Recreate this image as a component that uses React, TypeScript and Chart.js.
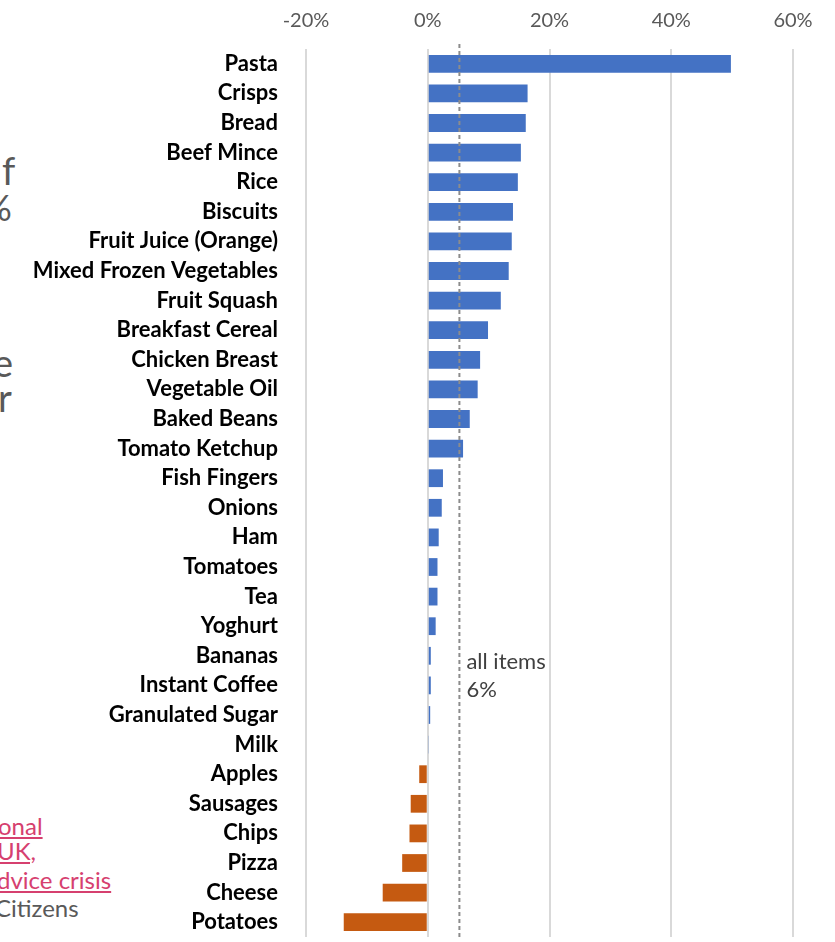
import React, { useEffect, useRef } from "react";
import { Chart, registerables } from "chart.js";

Chart.register(...registerables);

const categories = [
  "Pasta", "Crisps", "Bread", "Beef Mince", "Rice", "Biscuits", "Fruit Juice (Orange)",
  "Mixed Frozen Vegetables", "Fruit Squash", "Breakfast Cereal", "Chicken Breast",
  "Vegetable Oil", "Baked Beans", "Tomato Ketchup", "Fish Fingers", "Onions", "Ham",
  "Tomatoes", "Tea", "Yoghurt", "Bananas", "Instant Coffee", "Granulated Sugar", "Milk",
  "Apples", "Sausages", "Chips", "Pizza", "Cheese", "Potatoes",
];

const changes = [
  49.8, 16.4, 16.1, 15.3, 14.8, 14.0, 13.8,
  13.3, 12.0, 9.9, 8.6,
  8.2, 6.9, 5.8, 2.5, 2.3, 1.8,
  1.6, 1.6, 1.3, 0.5, 0.5, 0.4, 0.2,
  -1.4, -2.8, -3.0, -4.2, -7.4, -13.8,
];

const xTicks = [-20, 0, 20, 40, 60];
const allItemsValue = 5.2;
const allItemsLabel = ["all items", "6%"];

const leftFragments = [
  { text: "f", left: 2, top: 148, size: 38, color: "#595959", underline: false },
  { text: "%", left: -17, top: 186, size: 36, color: "#595959", underline: false },
  { text: "e", left: -7, top: 340, size: 38, color: "#595959", underline: false },
  { text: "r", left: -2, top: 375, size: 38, color: "#595959", underline: false },
  { text: "onal", left: -2, top: 812, size: 24, color: "#d6406f", underline: true },
  { text: "UK,", left: -3, top: 837, size: 24, color: "#d6406f", underline: true },
  { text: "dvice crisis", left: -3, top: 866, size: 24, color: "#d6406f", underline: true },
  { text: "Citizens", left: -5, top: 894, size: 24, color: "#595959", underline: false },
];

const BLUE = "#4472C4";
const ORANGE = "#C55A11";

const refLinePlugin = {
  id: "refLine",
  afterDatasetsDraw(chart: any) {
    const { ctx, chartArea, scales } = chart;
    const x = scales.x.getPixelForValue(allItemsValue);
    ctx.save();
    ctx.strokeStyle = "#8c8c8c";
    ctx.lineWidth = 2;
    ctx.setLineDash([4, 3]);
    ctx.beginPath();
    ctx.moveTo(x, chartArea.top - 5);
    ctx.lineTo(x, chartArea.bottom);
    ctx.stroke();
    ctx.setLineDash([]);
    ctx.fillStyle = "#404040";
    ctx.font = "22px Lato";
    ctx.textAlign = "left";
    ctx.textBaseline = "middle";
    const yc = scales.y.getPixelForValue(20);
    ctx.fillText(allItemsLabel[0], x + 7, yc + 6);
    ctx.fillText(allItemsLabel[1], x + 7, yc + 34);
    ctx.restore();
  },
};

export default function App() {
  const ref = useRef<HTMLCanvasElement>(null);
  useEffect(() => {
    if (!ref.current) return;
    const chart = new Chart(ref.current, {
      type: "bar",
      data: {
        labels: categories,
        datasets: [
          {
            data: changes,
            backgroundColor: changes.map((v) => (v >= 0 ? BLUE : ORANGE)),
            barPercentage: 0.6,
            categoryPercentage: 1,
          },
        ],
      },
      options: {
        indexAxis: "y",
        responsive: false,
        animation: false,
        layout: { padding: { left: 0, right: 42, top: 0, bottom: 5 } },
        plugins: { legend: { display: false }, tooltip: { enabled: false } },
        scales: {
          x: {
            position: "top",
            min: -20,
            max: 60,
            afterBuildTicks: (s: any) => {
              s.ticks = xTicks.map((v) => ({ value: v }));
            },
            afterFit: (s: any) => {
              s.height = 49;
              s.paddingLeft = 0;
              s.paddingRight = 0;
            },
            grid: { color: "#d9d9d9", lineWidth: 2, drawTicks: false },
            border: { display: false },
            ticks: {
              padding: 16,
              color: "#595959",
              font: { family: "Lato", size: 20 },
              callback: (v: any) => v + "%",
            },
          },
          y: {
            afterFit: (s: any) => {
              s.width = 306;
              s.paddingTop = 0;
              s.paddingBottom = 0;
            },
            grid: { display: false, drawTicks: false },
            border: { display: false },
            ticks: {
              padding: 28,
              autoSkip: false,
              color: "#000000",
              font: { family: "Lato", size: 22, weight: "bold" },
            },
          },
        },
      },
      plugins: [refLinePlugin],
    } as any);
    return () => chart.destroy();
  }, []);

  return (
    <div style={{ position: "absolute", left: 0, top: 0, width: 835, height: 942, overflow: "hidden", background: "#fff" }}>
      {leftFragments.map((f, i) => (
        <div
          key={i}
          style={{
            position: "absolute",
            left: f.left,
            top: f.top,
            fontFamily: "Lato",
            fontSize: f.size,
            color: f.color,
            textDecoration: f.underline ? "underline" : "none",
            whiteSpace: "nowrap",
            lineHeight: 1.2,
          }}
        >
          {f.text}
        </div>
      ))}
      <canvas ref={ref} width={835} height={942} style={{ position: "absolute", left: 0, top: 0 }} />
    </div>
  );
}
